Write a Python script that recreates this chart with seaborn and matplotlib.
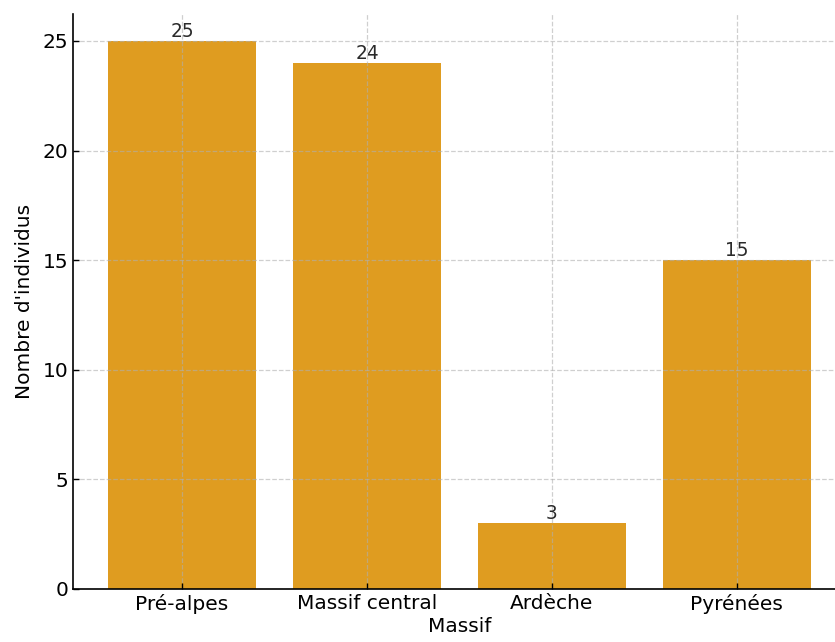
import matplotlib
matplotlib.use("Agg")
import matplotlib.pyplot as plt
import seaborn as sns
import pandas as pd

massifs = ["Pré-alpes", "Massif central", "Ardèche", "Pyrénées"]
effectifs = [25, 24, 3, 15]

df = pd.DataFrame({"Massif": massifs, "Nombre d'individus": effectifs})

plt.rcParams["font.family"] = ["DejaVu Sans"]
fs = 14.5

fig = plt.figure(figsize=(8.35, 6.42), dpi=100)
ax = fig.add_axes([73 / 835, 53 / 642, 773 / 835, 575.4 / 642])

sns.barplot(data=df, x="Massif", y="Nombre d'individus", color="orange",
            width=0.8, ax=ax)

for c in ax.containers:
    ax.bar_label(c, fontsize=fs * 0.92, color="#2a2a2a", padding=0)

ax.set_xlim(-0.59, 3.59)
ax.set_ylim(0, 26.25)
ax.set_yticks([0, 5, 10, 15, 20, 25])
ax.grid(True, linestyle="--", color="#b0b0b0", alpha=0.6, linewidth=0.9)
ax.tick_params(direction="in", length=4, width=1, labelsize=fs)
ax.set_xlabel("Massif", fontsize=fs, labelpad=2)
ax.set_ylabel("Nombre d'individus", fontsize=fs, labelpad=6)
sns.despine(ax=ax)
for s in ("left", "bottom"):
    ax.spines[s].set_linewidth(1.2)

fig.savefig("out.png", dpi=100)
